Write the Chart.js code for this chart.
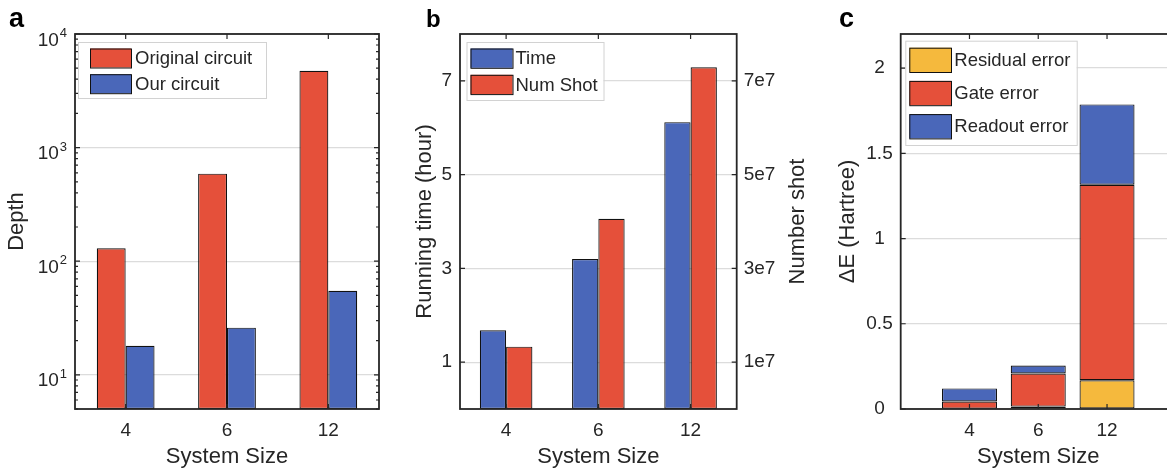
<!DOCTYPE html>
<html>
<head>
<meta charset="utf-8">
<script src="https://cdn.jsdelivr.net/npm/chart.js@4.4.1/dist/chart.umd.min.js"></script>
<style>
    html, body { margin: 0; padding: 0; background: #fff; overflow: hidden; width: 1167px; height: 470px; }
    .panel { position: absolute; top: 0; height: 470px; }
    #wrapA { left: 0; width: 400px; }
    #wrapB { left: 390px; width: 420px; }
    #wrapC { left: 800px; width: 400px; }
</style>
</head>
<body>
<div class="panel" id="wrapA"><canvas id="chartA" width="400" height="470"></canvas></div>
<div class="panel" id="wrapB"><canvas id="chartB" width="420" height="470"></canvas></div>
<div class="panel" id="wrapC"><canvas id="chartC" width="400" height="470"></canvas></div>
<script>
// ---- data ----
const sizes = ['4', '6', '12'];

// panel a: circuit depth (log axis)
const depthOriginal = [130, 590, 4750];
const depthOurs = [18, 26, 55];
const depthTicks = [10, 100, 1000, 10000];

// panel b: running time and number of shots
const runTime = [1.68, 3.2, 6.12];
const numShot = [1.33e7, 4.06e7, 7.29e7];
const timeTicks = [1, 3, 5, 7];
const shotTicks = [1e7, 3e7, 5e7, 7e7];

// panel c: stacked error budget
const residualErr = [0.002, 0.014, 0.169];
const gateErr = [0.042, 0.194, 1.147];
const readoutErr = [0.077, 0.047, 0.471];
const errTicks = [0, 0.5, 1, 1.5, 2];

const RED = '#e5503a';
const BLUE = '#4a67b9';
const YELLOW = '#f5b93d';
const INK = '#262626';
const GRID = '#dcdcdc';
const FONT = '"Liberation Sans", Arial, Helvetica, sans-serif';

Chart.defaults.font.family = FONT;
Chart.defaults.color = INK;
Chart.defaults.animation = false;

// fixed axis sizes so the plot boxes land where they are in the figure
function fixWidth(w) { return function (scale) { scale.width = w; }; }
function fixHeight(h) { return function (scale) { scale.height = h; }; }
function setTicks(list) { return function (scale) { scale.ticks = list.map(v => ({ value: v })); }; }

// MATLAB style box with inward ticks
const framePlugin = {
    id: 'frame',
    afterDatasetsDraw(chart, args, o) {
        const { ctx, chartArea: a, scales } = chart;
        ctx.save();
        ctx.strokeStyle = INK;
        ctx.lineWidth = 1.2;
        ctx.beginPath();
        const seg = (x1, y1, x2, y2) => { ctx.moveTo(x1, y1); ctx.lineTo(x2, y2); };

        scales.x.ticks.forEach((t, i) => {
            if (scales.x.getLabelForValue(t.value) === '') return;
            const px = scales.x.getPixelForTick(i);
            seg(px, a.bottom, px, a.bottom - 5);
            seg(px, a.top, px, a.top + 5);
        });
        scales.y.ticks.forEach(t => {
            const py = scales.y.getPixelForValue(t.value);
            seg(a.left, py, a.left + 5, py);
            if (!scales.y1) seg(a.right, py, a.right - 5, py);
        });
        if (scales.y1) {
            scales.y1.ticks.forEach(t => {
                const py = scales.y1.getPixelForValue(t.value);
                seg(a.right, py, a.right - 5, py);
            });
        }
        if (o.minor) {
            const y = scales.y;
            for (let k = 0; k < 4; k++) {
                for (let m = 2; m < 10; m++) {
                    const v = m * Math.pow(10, k);
                    if (v < y.min || v > y.max) continue;
                    const py = y.getPixelForValue(v);
                    seg(a.left, py, a.left + 3, py);
                    seg(a.right, py, a.right - 3, py);
                }
            }
        }
        ctx.stroke();
        ctx.lineWidth = 1.8;
        ctx.strokeRect(a.left, a.top, a.right - a.left, a.bottom - a.top);
        ctx.restore();
    }
};

// boxed legend inside the plot
const legendPlugin = {
    id: 'boxLegend',
    afterDraw(chart, args, o) {
        const ctx = chart.ctx;
        ctx.save();
        ctx.fillStyle = '#fff';
        ctx.strokeStyle = '#d2d2d2';
        ctx.lineWidth = 1;
        ctx.fillRect(o.x, o.y, o.w, o.h);
        ctx.strokeRect(o.x + 0.5, o.y + 0.5, o.w, o.h);
        ctx.font = '18.5px ' + FONT;
        ctx.textBaseline = 'middle';
        chart.data.datasets.forEach((ds, i) => {
            const top = o.rowY + i * o.pitch;
            ctx.fillStyle = ds.backgroundColor;
            ctx.fillRect(o.sx, top, o.sw, o.sh);
            ctx.strokeStyle = '#111';
            ctx.strokeRect(o.sx + 0.5, top + 0.5, o.sw, o.sh);
            ctx.fillStyle = INK;
            ctx.fillText(ds.label, o.tx, top + o.sh / 2 + 1);
        });
        ctx.restore();
    }
};

// panel letter, log tick labels, right axis title
const annotPlugin = {
    id: 'annot',
    afterDraw(chart, args, o) {
        const { ctx, chartArea: a, scales } = chart;
        ctx.save();
        ctx.fillStyle = '#000';
        ctx.font = 'bold ' + o.letterSize + 'px ' + FONT;
        ctx.textBaseline = 'alphabetic';
        ctx.fillText(o.letter, o.lx, 26.5);

        ctx.fillStyle = INK;
        if (o.logLabels) {
            depthTicks.forEach(v => {
                const py = scales.y.getPixelForValue(v);
                const exp = String(Math.round(Math.log10(v)));
                ctx.textAlign = 'right';
                ctx.font = '13px ' + FONT;
                const ex = a.left - 8;
                ctx.fillText(exp, ex, py + 3);
                const ew = ctx.measureText(exp).width;
                ctx.font = '19px ' + FONT;
                ctx.fillText('10', ex - ew - 1, py + 11.5);
            });
        }
        if (o.rightTitle) {
            ctx.font = '22px ' + FONT;
            ctx.textAlign = 'center';
            ctx.textBaseline = 'middle';
            ctx.translate(o.rightTitleX, (a.top + a.bottom) / 2);
            ctx.rotate(-Math.PI / 2);
            ctx.fillText(o.rightTitle, 0, 0);
        }
        ctx.restore();
    }
};

const tickFont = { size: 19 };
const titleFont = { size: 22 };

function xAxis(labels, offset) {
    return {
        type: 'category',
        labels: labels,
        offset: offset,
        afterFit: fixHeight(61),
        grid: { display: false, drawTicks: false },
        border: { display: false },
        ticks: { font: tickFont, padding: 10, maxRotation: 0, autoSkip: false },
        title: { display: true, text: 'System Size', font: titleFont, padding: { top: 0, bottom: 0 } }
    };
}

function barSet(label, data, color, extra) {
    return Object.assign({
        label: label,
        data: data,
        backgroundColor: color,
        borderColor: '#111',
        borderWidth: 1.2,
        borderSkipped: false
    }, extra || {});
}

// ---- panel a ----
new Chart(document.getElementById('chartA'), {
    type: 'bar',
    data: {
        labels: sizes,
        datasets: [
            barSet('Original circuit', depthOriginal, RED),
            barSet('Our circuit', depthOurs, BLUE)
        ]
    },
    options: {
        responsive: false,
        devicePixelRatio: 1,
        layout: { padding: { top: 34, left: 0, right: 21, bottom: 0 } },
        datasets: { bar: { barPercentage: 1, categoryPercentage: 0.57 } },
        scales: {
            x: xAxis(sizes, true),
            y: {
                type: 'logarithmic',
                min: 5,
                max: 10000,
                afterBuildTicks: setTicks(depthTicks),
                afterFit: fixWidth(75),
                grid: { color: GRID, lineWidth: 1.2, drawTicks: false },
                border: { display: false },
                ticks: { display: false },
                title: { display: true, text: 'Depth', font: titleFont, padding: { top: 4, bottom: 0 } }
            }
        },
        plugins: {
            legend: { display: false },
            tooltip: { enabled: false },
            frame: { minor: true },
            boxLegend: { x: 78, y: 42, w: 188, h: 56, sx: 90, sw: 41, sh: 19, rowY: 48.5, pitch: 25.7, tx: 135 },
            annot: { letter: 'a', letterSize: 27, lx: 9, logLabels: true }
        }
    },
    plugins: [framePlugin, legendPlugin, annotPlugin]
});

// ---- panel b ----
new Chart(document.getElementById('chartB'), {
    type: 'bar',
    data: {
        labels: sizes,
        datasets: [
            barSet('Time', runTime, BLUE, { yAxisID: 'y' }),
            barSet('Num Shot', numShot, RED, { yAxisID: 'y1' })
        ]
    },
    options: {
        responsive: false,
        devicePixelRatio: 1,
        layout: { padding: { top: 34, left: 0, right: 0, bottom: 0 } },
        datasets: { bar: { barPercentage: 1, categoryPercentage: 0.57 } },
        scales: {
            x: xAxis(sizes, true),
            y: {
                position: 'left',
                min: 0,
                max: 8,
                afterBuildTicks: setTicks(timeTicks),
                afterFit: fixWidth(70),
                grid: { color: GRID, lineWidth: 1.2, drawTicks: false },
                border: { display: false },
                ticks: { font: tickFont, padding: 8 },
                title: { display: true, text: 'Running time (hour)', font: titleFont, padding: { top: 21.5, bottom: 0 } }
            },
            y1: {
                position: 'right',
                min: 0,
                max: 8e7,
                afterBuildTicks: setTicks(shotTicks),
                afterFit: fixWidth(73.3),
                grid: { drawOnChartArea: false, drawTicks: false },
                border: { display: false },
                ticks: { font: tickFont, padding: 7, callback: v => (v / 1e7) + 'e7' }
            }
        },
        plugins: {
            legend: { display: false },
            tooltip: { enabled: false },
            frame: {},
            boxLegend: { x: 76.5, y: 42, w: 137, h: 58, sx: 80.5, sw: 42, sh: 19.3, rowY: 48.5, pitch: 26.3, tx: 125.5 },
            annot: { letter: 'b', letterSize: 24, lx: 36, rightTitle: 'Number shot', rightTitleX: 408 }
        }
    },
    plugins: [framePlugin, legendPlugin, annotPlugin]
});

// ---- panel c ----
// the x range runs one slot past each end, so pad the category list
const sizesC = [''].concat(sizes, ['']);
const padC = arr => [null].concat(arr, [null]);

new Chart(document.getElementById('chartC'), {
    type: 'bar',
    data: {
        labels: sizesC,
        datasets: [
            barSet('Residual error', padC(residualErr), YELLOW),
            barSet('Gate error', padC(gateErr), RED),
            barSet('Readout error', padC(readoutErr), BLUE)
        ]
    },
    options: {
        responsive: false,
        devicePixelRatio: 1,
        layout: { padding: { top: 34, left: 0, right: 24.2, bottom: 0 } },
        datasets: { bar: { barPercentage: 1, categoryPercentage: 0.8 } },
        scales: {
            x: Object.assign(xAxis(sizesC, false), { stacked: true }),
            y: {
                stacked: true,
                min: 0,
                max: 2.2,
                afterBuildTicks: setTicks(errTicks),
                afterFit: fixWidth(100.7),
                grid: { color: GRID, lineWidth: 1.2, drawTicks: false },
                border: { display: false },
                ticks: { font: tickFont, padding: 8, crossAlign: 'center', callback: v => String(v) },
                title: { display: true, text: '\u0394E (Hartree)', font: titleFont, padding: { top: 35, bottom: 0 } }
            }
        },
        plugins: {
            legend: { display: false },
            tooltip: { enabled: false },
            frame: {},
            boxLegend: { x: 105.3, y: 40.7, w: 171.4, h: 104.3, sx: 109.3, sw: 41.7, sh: 24.3, rowY: 47.7, pitch: 33.2, tx: 154.3 },
            annot: { letter: 'c', letterSize: 27, lx: 39 }
        }
    },
    plugins: [framePlugin, legendPlugin, annotPlugin]
});
</script>
</body>
</html>
